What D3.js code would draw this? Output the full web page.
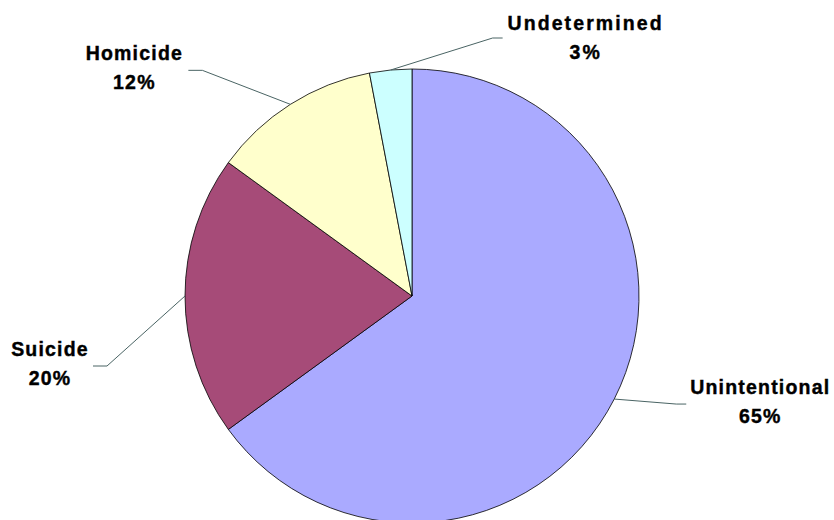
<!DOCTYPE html>
<html>
<head>
<meta charset="utf-8">
<script src="https://cdn.jsdelivr.net/npm/d3@7"></script>
<style>
  html, body { margin: 0; padding: 0; background: #fff; }
  svg { display: block; }
  .lbl { font-family: "Liberation Sans", Arial, sans-serif; font-weight: bold; font-size: 19.5px; letter-spacing: 1.3px; fill: #000; stroke: #000; stroke-width: 0.4px; }
</style>
</head>
<body>
<svg id="chart" width="834" height="520"></svg>
<script>
const categories = ["Unintentional", "Suicide", "Homicide", "Undetermined"];
const values = [65, 20, 12, 3];
const percentLabels = ["65%", "20%", "12%", "3%"];
const colors = ["#AAAAFF", "#A64B78", "#FFFFCC", "#CCFFFF"];
// label layout: elbow offset from anchor, end of horizontal segment, text center/baseline offsets from line end
const elbowDx = [62, -78, -88, 102];
const elbowDy = [5, 70, -34, -32];
const tailDx = [10, -14, -14, 10];
const textDx = [74, -43, -54, 83];
const textDy = [-10, -10, -10, -8];
const letterGap = [1.2, 1.2, 1.2, 2.1];

const svg = d3.select("#chart");
const cx = 412, cy = 296, R = 227;
const g = svg.append("g").attr("transform", `translate(${cx},${cy})`);

const data = categories.map((c, i) => ({ cat: c, value: values[i], pct: percentLabels[i], color: colors[i], i }));
const pie = d3.pie().value(d => d.value).sort(null);
const arcs = pie(data);
const arc = d3.arc().innerRadius(0).outerRadius(R);

g.selectAll("path.slice").data(arcs).enter().append("path")
  .attr("class", "slice")
  .attr("d", arc)
  .attr("fill", d => d.data.color)
  .attr("stroke", "#000")
  .attr("stroke-width", 0.8)
  .attr("stroke-linejoin", "round");

arcs.forEach(a => {
  const i = a.data.i;
  const mid = (a.startAngle + a.endAngle) / 2;
  const ax = Math.sin(mid) * R, ay = -Math.cos(mid) * R;
  const ex = ax + elbowDx[i], ey = ay + elbowDy[i];
  const tx = ex + tailDx[i];
  g.append("polyline")
    .attr("points", `${ax},${ay} ${ex},${ey} ${tx},${ey}`)
    .attr("fill", "none")
    .attr("stroke", "#4a6464")
    .attr("stroke-width", 1);
  const lx = tx + textDx[i], ly = ey + textDy[i];
  const t = g.append("text").attr("class", "lbl").attr("text-anchor", "middle")
    .style("letter-spacing", letterGap[i] + "px");
  t.append("tspan").attr("x", lx).attr("y", ly).text(a.data.cat);
  t.append("tspan").attr("x", lx).attr("y", ly + 29).text(a.data.pct);
});
</script>
</body>
</html>
